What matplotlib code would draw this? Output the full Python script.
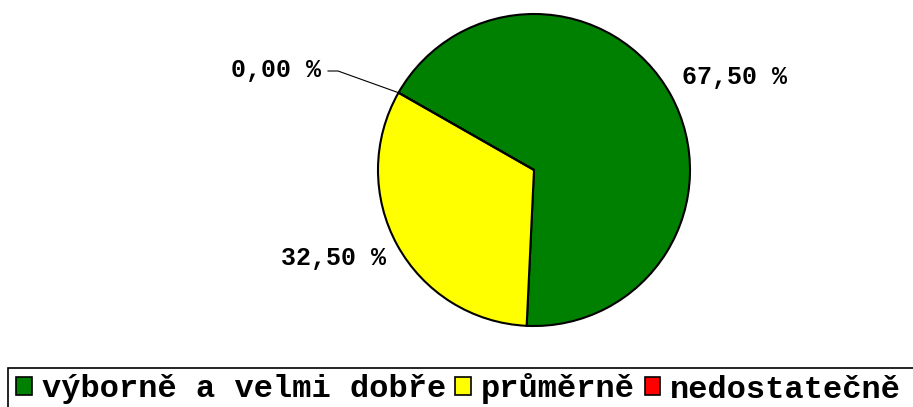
import numpy as np
import matplotlib
matplotlib.use("Agg")
import matplotlib.pyplot as plt
from matplotlib.patches import Patch, Rectangle

labels = ["výborně a velmi dobře", "průměrně", "nedostatečně"]
values = [67.5, 32.5, 0.0]
colors = ["#008000", "#FFFF00", "#FF0000"]

W, H = 913, 407
fig = plt.figure(figsize=(W / 100, H / 100), dpi=100)
ax = fig.add_axes([0, 0, 1, 1])

cx, cy, R = 534, 237, 156
start = 150.3
wedges, _ = ax.pie(values, colors=colors, startangle=start, counterclock=False,
                   center=(cx, cy), radius=R, frame=True,
                   wedgeprops=dict(edgecolor="black", linewidth=1.5))
ax.set_xlim(0, W)
ax.set_ylim(0, H)
ax.set_aspect("equal")
ax.axis("off")

font = dict(family="Liberation Mono", weight="bold", fontsize=18)
txt = [f"{v:.2f} %".replace(".", ",") for v in values]
ax.text(734, H - 77, txt[0], ha="center", va="center", **font)
ax.text(333, H - 258, txt[1], ha="center", va="center", **font)
ax.text(276, H - 70, txt[2], ha="center", va="center", **font)

# leader line for the empty slice
a = np.deg2rad(start)
px, py = cx + R * np.cos(a), cy + R * np.sin(a)
ax.plot([328, 338, px], [H - 71, H - 71, py], color="black", lw=0.8)

# legend frame (runs off the right/bottom edge like the original)
ax.add_patch(Rectangle((8, -20), W + 20, H - 368 + 20, facecolor="none",
                       edgecolor="black", lw=1.2, clip_on=False))

handles = [Patch(facecolor=c, edgecolor="black", linewidth=1.2) for c in colors]
leg = fig.legend(handles, labels, loc="center left", bbox_to_anchor=(16 / W, (H - 389) / H),
                 ncol=3, prop=dict(family="Liberation Mono", weight="bold", size=23),
                 handlelength=0.5, handleheight=0.5, handletextpad=0.3,
                 columnspacing=0.3, borderpad=0, borderaxespad=0,
                 frameon=False)

fig.savefig("out.png", dpi=100)
